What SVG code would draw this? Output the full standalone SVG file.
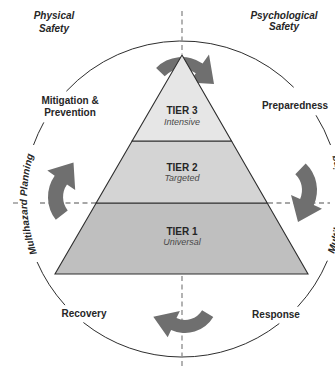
<svg xmlns="http://www.w3.org/2000/svg" width="335" height="369" viewBox="0 0 335 369">
  <style>
    .ring { fill: none; stroke: #2e2e2e; stroke-width: 1; }
    .axis { fill: none; stroke: #8a8a8a; stroke-width: 1.3; stroke-dasharray: 5 3.5; }
    .turn { fill: #6f6f6f; stroke: none; }
    .tier { stroke: #2e2e2e; stroke-width: 1.1; stroke-linejoin: miter; }
    .lbl { font-family: "Liberation Sans", Arial, sans-serif; font-size: 10px; font-weight: bold; fill: #262626; text-anchor: middle; }
    .lbl.it { font-style: italic; }
    .sub { font-family: "Liberation Sans", Arial, sans-serif; font-size: 9px; font-style: italic; fill: #4a4a4a; text-anchor: middle; }
  </style>
  <defs>
    <path id="arcL" d="M50.6,281.1 A155,155 0 0 1 45.1,126.2"/>
    <path id="arcR" d="M319.0,284.6 A161.5,161.5 0 0 0 324.6,123.2"/>
  </defs>

  <rect width="335" height="369" fill="#ffffff"/>

  <!-- cycle ring, broken where the stage labels sit -->
  <g id="connectors">
    <g id="ring">
      <path class="ring" d="M66.4,91.2 A158,158 0 0 1 293.7,87.3"/>
      <path class="ring" d="M316.0,115.3 A158,158 0 0 1 330.5,145.0"/>
      <path class="ring" d="M327.4,260.7 A158,158 0 0 1 297.6,306.8"/>
      <path class="ring" d="M279.3,323.5 A158,158 0 0 1 83.4,322.5"/>
      <path class="ring" d="M64.95,305.1 A158,158 0 0 1 37.1,262.0"/>
      <path class="ring" d="M33.5,145.0 A158,158 0 0 1 43.8,122.4"/>
    </g>

    <!-- quadrant axes -->
    <g id="axes">
      <line class="axis" x1="182" y1="11" x2="182" y2="54"/>
      <line class="axis" x1="182" y1="276" x2="182" y2="369"/>
      <line class="axis" x1="13" y1="203" x2="18" y2="203"/>
      <line class="axis" x1="40" y1="203" x2="96" y2="203"/>
      <line class="axis" x1="268" y1="203" x2="330" y2="203"/>
    </g>

    <!-- clockwise cycle arrows: arc band plus triangular head -->
    <g id="cycle-arrows">
      <path class="turn" d="M156.1,68.0 A36,36 0 0 1 202.6,63.5 L209.0,54.5 L214,84 L189.5,82.4 L195.8,73.3 A24,24 0 0 0 164.7,76.3 Z"/>
      <path class="turn" d="M305.7,163.4 A37,37 0 0 1 313.8,205.0 L322.0,208.7 L298,222 L291.0,194.9 L300.1,198.9 A22,22 0 0 0 295.3,174.2 Z"/>
      <path class="turn" d="M202.1,310.3 A20,20 0 0 1 176.5,318.1 L179.9,310.9 L153.3,316.7 L167.7,337.2 L171.1,329.9 A33,33 0 0 0 213.3,317.0 Z"/>
      <path class="turn" d="M55.8,219.8 A37,37 0 0 1 54.7,175.8 L47.3,170.6 L73.5,162.5 L75.2,190.1 L67.0,184.4 A22,22 0 0 0 67.7,210.5 Z"/>
    </g>
  </g>

  <!-- three-tier pyramid -->
  <g id="tier1">
    <polygon class="tier" fill="#bfbfbf" points="96.2,203 267.2,203 308,274 55,274"/>
    <text class="lbl" x="182" y="234.5">TIER 1</text>
    <text class="sub" x="182" y="245">Universal</text>
  </g>
  <g id="tier2">
    <polygon class="tier" fill="#d4d4d4" points="132.1,141 231.5,141 267.2,203 96.2,203"/>
    <text class="lbl" x="182" y="170.5">TIER 2</text>
    <text class="sub" x="182" y="181">Targeted</text>
  </g>
  <g id="tier3">
    <polygon class="tier" fill="#e6e6e6" points="182,55 231.5,141 132.1,141"/>
    <text class="lbl" x="182" y="114">TIER 3</text>
    <text class="sub" x="182" y="124.5">Intensive</text>
  </g>

  <!-- quadrant headings -->
  <g id="physical-safety">
    <text class="lbl it" x="54" y="19">Physical</text>
    <text class="lbl it" x="54" y="31.5">Safety</text>
  </g>
  <g id="psychological-safety">
    <text class="lbl it" x="284" y="18.5">Psychological</text>
    <text class="lbl it" x="284" y="30">Safety</text>
  </g>

  <!-- cycle stages -->
  <g id="mitigation">
    <text class="lbl" x="70" y="103.5">Mitigation &amp;</text>
    <text class="lbl" x="70" y="116">Prevention</text>
  </g>
  <g id="preparedness">
    <text class="lbl" x="295" y="108.5">Preparedness</text>
  </g>
  <g id="response">
    <text class="lbl" x="276" y="318">Response</text>
  </g>
  <g id="recovery">
    <text class="lbl" x="84" y="317">Recovery</text>
  </g>

  <!-- ring captions -->
  <g id="planning-left">
    <text class="lbl it"><textPath href="#arcL" startOffset="50%">Multihazard Planning</textPath></text>
  </g>
  <g id="planning-right">
    <text class="lbl it"><textPath href="#arcR" startOffset="50%">Multihazard Planning</textPath></text>
  </g>
</svg>
